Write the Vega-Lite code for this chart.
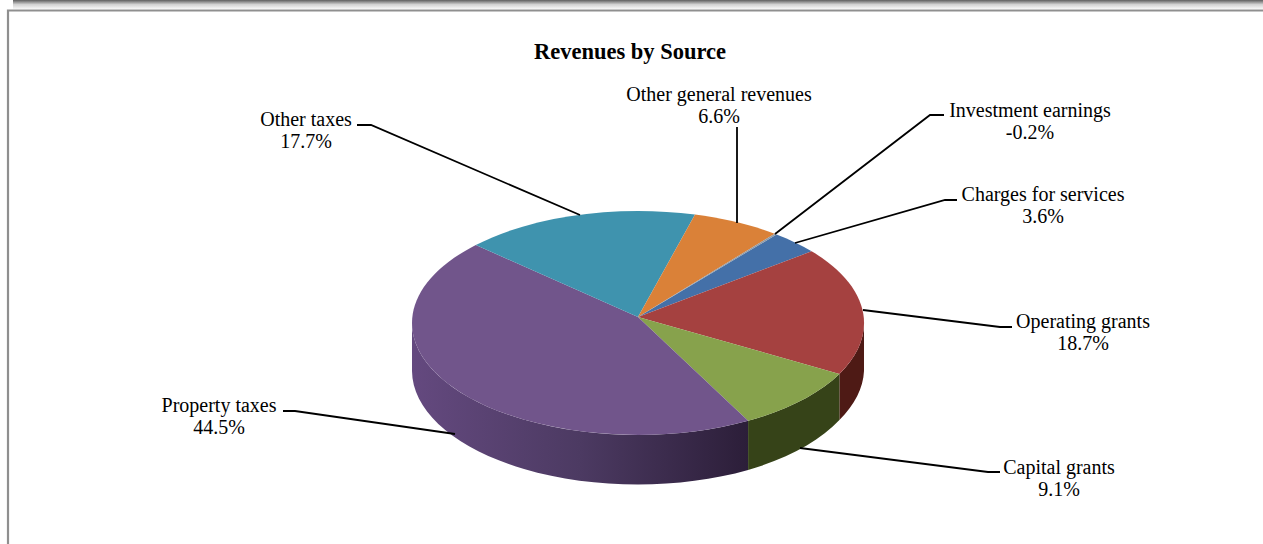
{
  "$schema": "https://vega.github.io/schema/vega-lite/v6.json",
  "autosize": "none",
  "padding": {"left": 13, "top": 102, "right": 0, "bottom": 0},
  "width": 1250,
  "height": 442,
  "background": "white",
  "config": {
    "view": {"stroke": null},
    "font": "Liberation Serif",
    "locale": {"number": {"decimal": ".", "thousands": ",", "grouping": [3], "currency": ["$", ""], "minus": "-"}}
  },
  "title": {
    "text": "Revenues by Source",
    "font": "Liberation Serif",
    "fontSize": 22.5,
    "fontWeight": "bold",
    "color": "#000000",
    "anchor": "middle",
    "frame": "group",
    "baseline": "alphabetic",
    "dx": -8,
    "offset": -81
  },
  "data": {
    "values": [
      {"source": "Charges for services", "value": 0.036},
      {"source": "Operating grants", "value": 0.187},
      {"source": "Capital grants", "value": 0.091},
      {"source": "Property taxes", "value": 0.445},
      {"source": "Other taxes", "value": 0.177},
      {"source": "Other general revenues", "value": 0.066},
      {"source": "Investment earnings", "value": -0.002}
    ]
  },
  "layer": [
    {
      "data": {"values": [{"part": "window shadow"}]},
      "mark": {
        "type": "point",
        "filled": true,
        "opacity": 1,
        "size": 4,
        "shape": "M-625,-323 L625,-323 L625,-314 L-625,-314 Z",
        "fill": {
          "gradient": "linear", "x1": 0, "y1": 0, "x2": 0, "y2": 1,
          "stops": [
            {"offset": 0, "color": "#5e5e5e"},
            {"offset": 0.5, "color": "#d2d2d2"},
            {"offset": 1, "color": "#f7f7f7"}
          ]
        }
      },
      "encoding": {}
    },
    {
      "data": {"values": [{"part": "panel border"}]},
      "mark": {
        "type": "point",
        "filled": false,
        "opacity": 1,
        "size": 4,
        "shape": "M-630,221 L-630,-312.5 L625,-312.5",
        "stroke": "#8f8f8f",
        "strokeWidth": 2.2
      },
      "encoding": {}
    },
    {
      "transform": [{"filter": {"field": "source", "equal": "Property taxes"}}],
      "mark": {
        "type": "point",
        "filled": true,
        "opacity": 1,
        "size": 4,
        "strokeWidth": 0,
        "shape": "M-226,0 A226,112 0 0 0 110.1,97.8 L110.1,147 A226,114 0 0 1 -226,48 Z",
        "fill": {
          "gradient": "linear", "x1": 0, "y1": 0, "x2": 1, "y2": 0,
          "stops": [
            {"offset": 0, "color": "#64497f"},
            {"offset": 0.5, "color": "#4c3a62"},
            {"offset": 1, "color": "#2c1e39"}
          ]
        }
      },
      "encoding": {}
    },
    {
      "transform": [{"filter": {"field": "source", "oneOf": ["Operating grants", "Capital grants"]}}],
      "mark": {"type": "point", "filled": true, "opacity": 1, "size": 4, "strokeWidth": 0},
      "encoding": {
        "shape": {
          "field": "source",
          "type": "nominal",
          "legend": null,
          "scale": {
            "domain": ["Operating grants", "Capital grants"],
            "range": [
              "M201.4,50.9 A226,112 0 0 0 226,0 L226,48 A226,114 0 0 1 201.4,97 Z",
              "M110.1,97.8 A226,112 0 0 0 201.4,50.9 L201.4,97 A226,114 0 0 1 110.1,147 Z"
            ]
          }
        },
        "color": {
          "field": "source",
          "type": "nominal",
          "legend": null,
          "scale": {
            "domain": ["Operating grants", "Capital grants"],
            "range": ["#4e1a15", "#364318"]
          }
        }
      }
    },
    {
      "mark": {"type": "point", "filled": true, "opacity": 1, "size": 4, "strokeWidth": 0},
      "encoding": {
        "shape": {
          "field": "source",
          "type": "nominal",
          "legend": null,
          "scale": {
            "domain": ["Charges for services", "Operating grants", "Capital grants", "Property taxes", "Other taxes", "Other general revenues", "Investment earnings"],
            "range": [
              "M0,-6 L138.5,-88.5 A226,112 0 0 1 173.6,-71.7 Z",
              "M0,-6 L173.6,-71.7 A226,112 0 0 1 201.4,50.9 Z",
              "M0,-6 L201.4,50.9 A226,112 0 0 1 110.1,97.8 Z",
              "M0,-6 L110.1,97.8 A226,112 0 0 1 -162.2,-78 Z",
              "M0,-6 L-162.2,-78 A226,112 0 0 1 57,-108.4 Z",
              "M0,-6 L57,-108.4 A226,112 0 0 1 136.7,-89.2 Z",
              "M0,-6 L136.7,-89.2 A226,112 0 0 1 138.5,-88.5 Z"
            ]
          }
        },
        "color": {
          "field": "source",
          "type": "nominal",
          "legend": null,
          "scale": {
            "domain": ["Charges for services", "Operating grants", "Capital grants", "Property taxes", "Other taxes", "Other general revenues", "Investment earnings"],
            "range": ["#4470a8", "#a54140", "#87a24c", "#71558b", "#3f93ae", "#da8138", "#8f9aa6"]
          }
        }
      }
    },
    {
      "mark": {"type": "point", "filled": false, "opacity": 1, "size": 4, "stroke": "#000000", "strokeWidth": 1.8},
      "encoding": {
        "shape": {
          "field": "source",
          "type": "nominal",
          "legend": null,
          "scale": {
            "domain": ["Charges for services", "Operating grants", "Capital grants", "Property taxes", "Other taxes", "Other general revenues", "Investment earnings"],
            "range": [
              "M319,-123 L307,-123 L157,-80",
              "M225,-13 L362,4 L374,4",
              "M162,125 L350,149 L362,149",
              "M-355,88 L-343,88 L-183,111",
              "M-281,-198 L-267,-198 L-58,-108",
              "M99,-196 L99,-100",
              "M306,-208 L292,-208 L137,-89"
            ]
          }
        }
      }
    },
    {
      "mark": {"type": "text", "align": "center", "baseline": "alphabetic", "fontSize": 20, "font": "Liberation Serif", "color": "#000000"},
      "encoding": {
        "x": {
          "field": "value", "type": "quantitative", "axis": null,
          "scale": {"domain": [-0.002, 0.036, 0.066, 0.091, 0.177, 0.187, 0.445], "range": [1017, 1030, 706, 1046, 293, 1070, 206], "nice": false, "zero": false}
        },
        "y": {
          "field": "value", "type": "quantitative", "axis": null,
          "scale": {"domain": [-0.002, 0.036, 0.066, 0.091, 0.177, 0.187, 0.445], "range": [15, 99, -1, 372, 24, 226, 310], "nice": false, "zero": false}
        },
        "text": {"field": "source", "type": "nominal"}
      }
    },
    {
      "mark": {"type": "text", "align": "center", "baseline": "alphabetic", "dy": 22, "fontSize": 20, "font": "Liberation Serif", "color": "#000000"},
      "encoding": {
        "x": {"field": "value", "type": "quantitative", "axis": null},
        "y": {"field": "value", "type": "quantitative", "axis": null},
        "text": {"field": "value", "type": "quantitative", "format": ".1%"}
      }
    }
  ],
  "resolve": {"scale": {"shape": "independent", "color": "independent"}}
}
